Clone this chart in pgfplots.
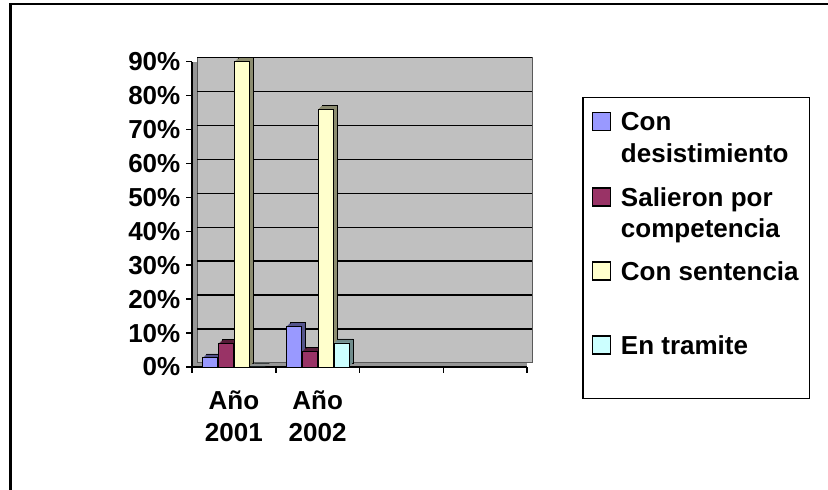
\documentclass[border=0pt]{standalone}
\usepackage{fontspec}
\setmainfont{Liberation Sans}
\usepackage{pgfplots}
\usepackage{pgfplotstable}
\pgfplotsset{compat=1.18}
\definecolor{cD}{HTML}{9999FF}
\definecolor{cS}{HTML}{993366}
\definecolor{cC}{HTML}{FFFFCC}
\definecolor{cT}{HTML}{CCFFFF}
\definecolor{wall}{HTML}{C0C0C0}
\definecolor{side}{HTML}{969696}
\pgfplotstableread{
x d s c t
0 2.7 6.9 90 0
1 11.9 4.6 76 7.1
}\datatable
\newcommand\bigfont{\fontsize{26}{31.5}\selectfont\bfseries}
\newcommand\threedbar[4]{%
  \addplot[ybar, bar width=15pt, bar shift=#2, fill=#3!55!black, draw=black, line width=0.6pt, xshift=4pt, yshift=4pt, forget plot] table[x=x,y=#1]{\datatable};
  \addplot[ybar, bar width=15pt, bar shift=#2, fill=#3!55!black, draw=none, xshift=3pt, yshift=3pt, forget plot] table[x=x,y=#1]{\datatable};
  \addplot[ybar, bar width=15pt, bar shift=#2, fill=#3!55!black, draw=none, xshift=2pt, yshift=2pt, forget plot] table[x=x,y=#1]{\datatable};
  \addplot[ybar, bar width=15pt, bar shift=#2, fill=#3!55!black, draw=none, xshift=1pt, yshift=1pt, forget plot] table[x=x,y=#1]{\datatable};
  \addplot[ybar, bar width=15pt, bar shift=#2, fill=#3, draw=black, line width=0.8pt,
    legend image code/.code={\path (0pt,-#4) (0pt,22pt);\draw[fill=#3, draw=black, line width=1.2pt] (0pt,0.5pt) rectangle (18pt,18.5pt);}] table[x=x,y=#1]{\datatable};
}
\begin{document}
\begin{tikzpicture}[x=1pt,y=1pt]
\useasboundingbox (0,0) rectangle (828,490);
\draw[line width=2pt] (9,485.7) -- (840,485.7);
\draw[line width=2.7pt] (10.3,486.7) -- (10.3,-10);
\begin{axis}[
  at={(192pt,123pt)}, anchor=south west,
  scale only axis, width=335pt, height=305.3pt,
  xmin=-0.5, xmax=3.5, ymin=0, ymax=90,
  axis x line*=bottom, axis y line*=left,
  axis line style={line width=1.5pt, black},
  tick align=outside,
  major tick length=6pt,
  tick style={line width=1.5pt, black},
  xtick={-0.5,0.5,1.5,2.5,3.5}, xticklabels={},
  extra x ticks={0,1},
  extra x tick labels={{Año\\2001},{Año\\2002}},
  extra x tick style={major tick length=0pt, xticklabel style={align=center, inner sep=0pt, yshift=-24pt}},
  ytick={10,20,...,90},
  yticklabels={10\%,20\%,30\%,40\%,50\%,60\%,70\%,80\%,90\%},
  extra y ticks={0}, extra y tick labels={0\%}, extra y tick style={grid=none},
  ymajorgrids, grid style={line width=1.5pt, black, transform canvas={xshift=5pt, yshift=4pt}},
  tick label style={font=\bigfont},
  yticklabel style={inner sep=0pt, xshift=-5.5pt},
  axis background/.style={fill=side, postaction={fill=wall, draw=gray!70!black, line width=1pt, transform canvas={xshift=5pt, yshift=4pt}}},
  clip=false,
  legend cell align=left,
  legend style={at={(1.1642,0.8844)}, anchor=north west, draw=black, line width=1.5pt, fill=white,
    font=\bigfont, inner xsep=9pt, inner ysep=9pt, row sep=10.2pt, column sep=8pt,
    cells={anchor=base west, inner sep=0pt}},
]
\threedbar{d}{-24pt}{cD}{41pt}
\threedbar{s}{-8pt}{cS}{41pt}
\threedbar{c}{8pt}{cC}{41pt}
\threedbar{t}{24pt}{cT}{34.5pt}
\legend{{\begin{tabular}[t]{@{}l@{}}Con\\desistimiento\end{tabular}},
        {\begin{tabular}[t]{@{}l@{}}Salieron por\\competencia\end{tabular}},
        {Con sentencia},
        {En tramite}}
\end{axis}
\end{tikzpicture}
\end{document}
